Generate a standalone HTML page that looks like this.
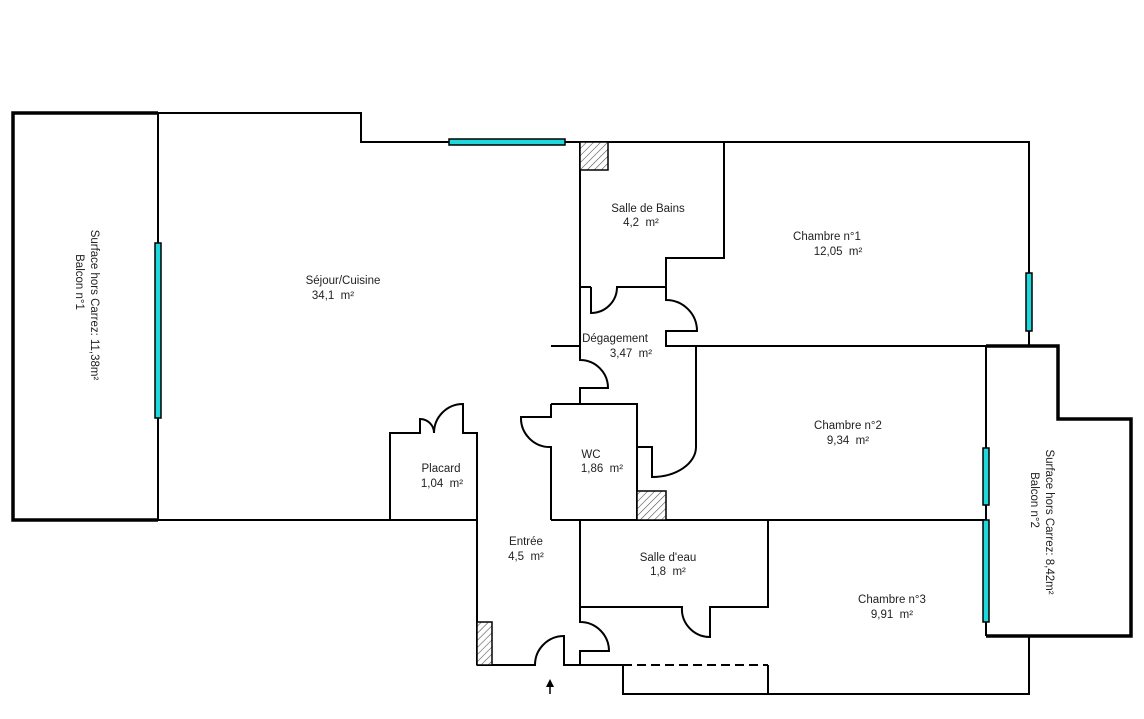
<!DOCTYPE html>
<html><head><meta charset="utf-8"><style>
html,body{margin:0;padding:0;background:#fff;}
svg{display:block;}
text{font-family:"Liberation Sans",Arial,sans-serif;font-size:11.5px;fill:#222;text-anchor:middle;white-space:pre;}
</style></head><body>
<svg width="1144" height="719" viewBox="0 0 1144 719" xmlns="http://www.w3.org/2000/svg" xml:space="preserve">
<defs>
<pattern id="h" patternUnits="userSpaceOnUse" width="5" height="5" patternTransform="rotate(45)">
<rect width="5" height="5" fill="#fff"/><line x1="0" y1="0" x2="0" y2="5" stroke="#555" stroke-width="1.2"/>
</pattern>
</defs>
<g fill="none" stroke="#000" stroke-width="2">
<path d="M158,520 H13 V113 H158" stroke-width="3.5"/>
<line x1="158" y1="113" x2="158" y2="520"/>
<path d="M158,113 H361 V142 H1029 V346"/>
<path d="M580,142 V287 H591"/>
<path d="M591,287 V313 A26,26 0 0 0 617,287 H666 V258 H724 V142"/>
<path d="M666,287 V300 A31,31 0 0 1 697,331 H666 V346 H986"/>
<line x1="551" y1="346" x2="580" y2="346"/>
<path d="M580,287 V360 A28,28 0 0 1 608,388 H580 V404"/>
<path d="M551,404 H637 V520"/>
<path d="M551,404 V417 H521 A29,29 0 0 0 551,447 V520"/>
<path d="M696,346 V447 H696"/>
<path d="M637,447 H652 V477 A44,30 0 0 0 696,447"/>
<path d="M390,520 V433 H420 V419 A14,14 0 0 1 434,433 A29,29 0 0 1 463,404 V433 H477 V665"/>
<line x1="158" y1="520" x2="477" y2="520"/>
<line x1="551" y1="520" x2="986" y2="520"/>
<path d="M477,665 H535 A29,29 0 0 1 564,636 V665 H623"/>
<path d="M580,520 V622 A29,29 0 0 1 609,651 H580 V665"/>
<path d="M580,607 H682 A28,28 0 0 0 710,637 V607 H768 V520"/>
<line x1="623" y1="665" x2="768" y2="665" stroke-dasharray="9,5"/>
<path d="M623,665 V694 H1029 V636"/>
<line x1="768" y1="665" x2="768" y2="694"/>
<line x1="986" y1="346" x2="986" y2="636"/>
<path d="M986,346 H1058 V419 H1131 V636 H986" stroke-width="3.5"/>
</g>
<g stroke="#000" stroke-width="1.5" fill="url(#h)">
<rect x="580" y="142" width="28" height="28"/>
<rect x="637" y="491" width="29" height="29"/>
<rect x="477" y="622" width="15" height="43"/>
</g>
<g fill="#1ed8dc" stroke="#000" stroke-width="1.5">
<rect x="155" y="243" width="6" height="175"/>
<rect x="449" y="139" width="116" height="6"/>
<rect x="1026" y="273" width="6" height="58"/>
<rect x="983" y="448" width="6" height="57"/>
<rect x="983" y="520" width="6" height="102"/>
</g>
<line x1="550" y1="694" x2="550" y2="684" stroke="#000" stroke-width="1.5"/>
<polygon points="550,679 546,687 554,687" fill="#000"/>
<text x="343" y="284">Séjour/Cuisine</text><text x="333" y="299">34,1  m²</text>
<text x="648" y="212">Salle de Bains</text><text x="641" y="226">4,2  m²</text>
<text x="827" y="240">Chambre n°1</text><text x="838" y="255">12,05  m²</text>
<text x="615" y="342">Dégagement</text><text x="631" y="357">3,47  m²</text>
<text x="848" y="429">Chambre n°2</text><text x="848" y="444">9,34  m²</text>
<text x="591" y="458">WC</text><text x="602" y="472">1,86  m²</text>
<text x="441" y="472">Placard</text><text x="442" y="487">1,04  m²</text>
<text x="526" y="545">Entrée</text><text x="526" y="560">4,5  m²</text>
<text x="668" y="561">Salle d'eau</text><text x="668" y="575">1,8  m²</text>
<text x="892" y="603">Chambre n°3</text><text x="892" y="618">9,91  m²</text>
<text transform="translate(91,305) rotate(90)">Surface hors Carrez: 11,38m²</text>
<text transform="translate(76,282) rotate(90)">Balcon n°1</text>
<text transform="translate(1046,522) rotate(90)">Surface hors Carrez: 8,42m²</text>
<text transform="translate(1031,500) rotate(90)">Balcon n°2</text>
</svg>
</body></html>
